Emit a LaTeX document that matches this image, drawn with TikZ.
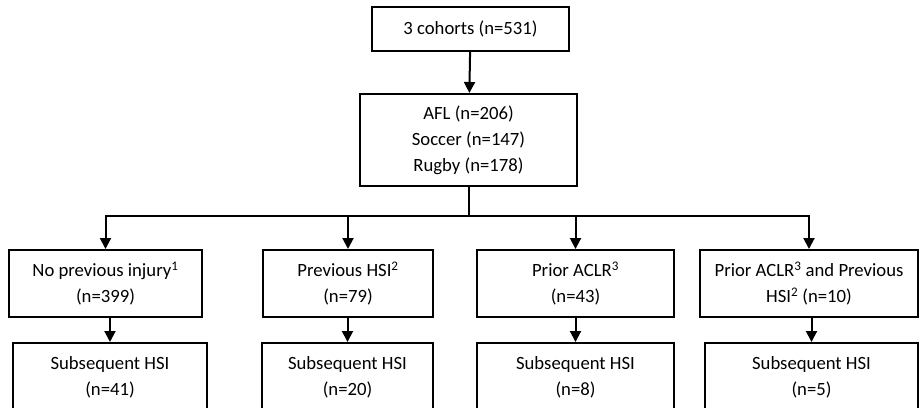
\documentclass[tikz,border=0pt]{standalone}
\usepackage{fontspec}
\setmainfont{Carlito}
\usetikzlibrary{arrows.meta,positioning}

\tikzset{box/.style={draw,line width=2pt,align=center,inner sep=0pt,font=\fontsize{18.7}{26}\selectfont}}
\tikzset{toprow/.style={box,minimum height=67pt}}
\tikzset{hsirow/.style={box,minimum height=69pt}}

\begin{document}
\begin{tikzpicture}[x=1pt,y=-1pt,line width=2pt,>={Triangle[width=11pt,length=11pt]}]
\useasboundingbox (0,0) rectangle (920,407);

\node[box,minimum width=197pt,minimum height=44pt] (cohorts) at (470.5,29) {3 cohorts (n=531)};
\node[box,minimum width=217pt,minimum height=92pt] (sports) at (468.5,140) {AFL (n=206)\\Soccer (n=147)\\Rugby (n=178)};

\node[toprow,minimum width=193pt] (noinj) at (105.5,283.5) {No previous injury\textsuperscript{1}\\(n=399)};
\node[toprow,minimum width=170pt] (prevhsi) at (348,283.5) {Previous HSI\textsuperscript{2}\\(n=79)};
\node[toprow,minimum width=197pt] (aclr) at (575.5,283.5) {Prior ACLR\textsuperscript{3}\\(n=43)};
\node[toprow,minimum width=218pt] (both) at (809,283.5) {Prior ACLR\textsuperscript{3} and Previous\\HSI\textsuperscript{2} (n=10)};

\node[hsirow,minimum width=194pt] (noinjhsi) at (110,377.5) {Subsequent HSI\\(n=41)};
\node[hsirow,minimum width=171pt] (prevhsihsi) at (347.5,377.5) {Subsequent HSI\\(n=20)};
\node[hsirow,minimum width=197pt] (aclrhsi) at (575.5,377.5) {Subsequent HSI\\(n=8)};
\node[hsirow,minimum width=213pt] (bothhsi) at (811.5,377.5) {Subsequent HSI\\(n=5)};

\draw [->] (cohorts) -- (sports);

% split into the four groups
\coordinate (split) at (sports.south |- 0,216);
\draw (sports.south) -- (split);
\draw [->] (split) -| (noinj);
\draw [->] (split) -| (prevhsi);
\draw [->] (split) -| (aclr);
\draw [->] (split) -| (both);

\draw [->] (noinj.south -| noinjhsi) -- (noinjhsi);
\draw [->] (prevhsi.south -| prevhsihsi) -- (prevhsihsi);
\draw [->] (aclr.south -| aclrhsi) -- (aclrhsi);
\draw [->] (both.south -| bothhsi) -- (bothhsi);

\end{tikzpicture}
\end{document}
